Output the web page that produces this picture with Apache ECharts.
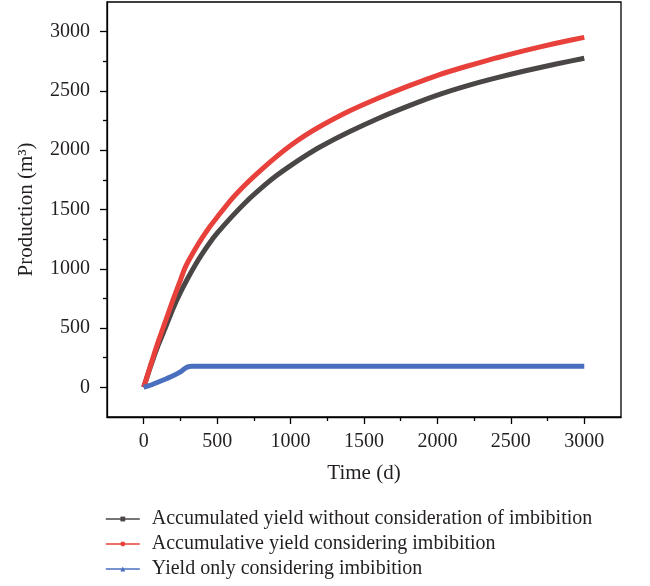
<!DOCTYPE html>
<html>
<head>
<meta charset="utf-8">
<script src="https://cdn.jsdelivr.net/npm/echarts@6/dist/echarts.min.js"></script>
<style>html,body{margin:0;padding:0;background:#fff;}#c{width:650px;height:586px;}</style>
</head>
<body>
<div id="c"></div>
<script>
const seriesNames = [
  'Accumulated yield without consideration of imbibition',
  'Accumulative yield considering imbibition',
  'Yield only considering imbibition'
];
const blackTime = [0, 50, 100, 150, 200, 250, 300, 350, 400, 450, 500, 600, 700, 800, 900, 1000, 1100, 1200, 1400, 1600, 1800, 2000, 2200, 2400, 2600, 2800, 3000];
const blackVals = [0, 190, 360, 510, 665, 800, 920, 1030, 1130, 1220, 1300, 1440, 1568, 1680, 1782, 1870, 1952, 2027, 2155, 2270, 2372, 2465, 2543, 2610, 2670, 2725, 2776];
const redTime = [0, 50, 100, 150, 200, 250, 275, 300, 350, 400, 450, 500, 600, 700, 800, 900, 1000, 1100, 1200, 1400, 1600, 1800, 2000, 2200, 2400, 2600, 2800, 3000];
const redVals = [0, 200, 390, 565, 740, 905, 990, 1055, 1165, 1265, 1355, 1435, 1590, 1720, 1835, 1942, 2040, 2125, 2200, 2330, 2440, 2540, 2632, 2708, 2778, 2842, 2900, 2952];
const blueTime = [0, 50, 100, 150, 200, 250, 275, 300, 325, 350, 500, 1000, 1500, 2000, 2500, 3000];
const blueVals = [0, 20, 45, 70, 97, 130, 155, 172, 178, 178, 178, 178, 178, 178, 178, 178];
const axisMin = -250, axisMax = 3250, axisStep = 250;
const majorTicks = [0, 500, 1000, 1500, 2000, 2500, 3000];
const minorTicks = [250, 750, 1250, 1750, 2250, 2750];

const colors = ['#4a4646', '#e8413c', '#4a6fbf'];
const symbols = ['rect', 'circle', 'triangle'];
const FONT = '"Liberation Serif", "DejaVu Serif", serif';
const TXT = '#231f20';

function pairs(t, v) { return t.map((x, i) => [x, v[i]]); }

function mainAxis(extra, margin) {
  return Object.assign({
    type: 'value', min: axisMin, max: axisMax, interval: axisStep,
    axisLine: { show: true, onZero: false, lineStyle: { color: '#000', width: 1.3 } },
    axisTick: { show: true, inside: false, length: 7, customValues: majorTicks, lineStyle: { color: '#000', width: 1.3 } },
    axisLabel: { customValues: majorTicks, formatter: v => String(v), fontFamily: FONT, fontSize: 20, color: TXT, margin: margin },
    splitLine: { show: false }
  }, extra);
}
function minorAxis(extra) {
  return Object.assign({
    type: 'value', min: axisMin, max: axisMax, interval: axisStep,
    axisLine: { show: false, onZero: false },
    axisTick: { show: true, inside: false, length: 4, customValues: minorTicks, lineStyle: { color: '#000', width: 1.3 } },
    axisLabel: { show: false },
    splitLine: { show: false }
  }, extra);
}

const chart = echarts.init(document.getElementById('c'), null, { renderer: 'canvas' });
chart.setOption({
  animation: false,
  backgroundColor: '#fff',
  grid: { left: 107, right: 29, top: 2, bottom: 169, show: true, borderColor: '#000', borderWidth: 1.3, backgroundColor: 'transparent' },
  xAxis: [
    mainAxis({ position: 'bottom', name: 'Time (d)', nameLocation: 'middle', nameGap: 46,
      nameTextStyle: { fontFamily: FONT, fontSize: 21, color: TXT } }, 15),
    minorAxis({ position: 'bottom' })
  ],
  yAxis: [
    mainAxis({ position: 'left', name: 'Production (m³)', nameLocation: 'middle', nameGap: 70,
      nameTextStyle: { fontFamily: FONT, fontSize: 21, color: TXT } }, 17),
    minorAxis({ position: 'left' })
  ],
  legend: {
    orient: 'vertical', left: 105, top: 509, padding: 0,
    itemWidth: 34, itemHeight: 6, itemGap: 5,
    lineStyle: { width: 1.6 },
    textStyle: { fontFamily: FONT, fontSize: 20, color: TXT, lineHeight: 20, padding: [0, 0, 0, 7] },
    data: seriesNames
  },
  series: [
    { name: seriesNames[0], type: 'line', data: pairs(blackTime, blackVals), color: colors[0], symbol: symbols[0], symbolSize: 5, showSymbol: false, lineStyle: { width: 5, color: colors[0] }, smooth: 0.2 },
    { name: seriesNames[1], type: 'line', data: pairs(redTime, redVals), color: colors[1], symbol: symbols[1], symbolSize: 5, showSymbol: false, lineStyle: { width: 5, color: colors[1] }, smooth: 0.2 },
    { name: seriesNames[2], type: 'line', data: pairs(blueTime, blueVals), color: colors[2], symbol: symbols[2], symbolSize: 5, showSymbol: false, lineStyle: { width: 5, color: colors[2] }, smooth: 0.2 }
  ]
});
</script>
</body>
</html>
